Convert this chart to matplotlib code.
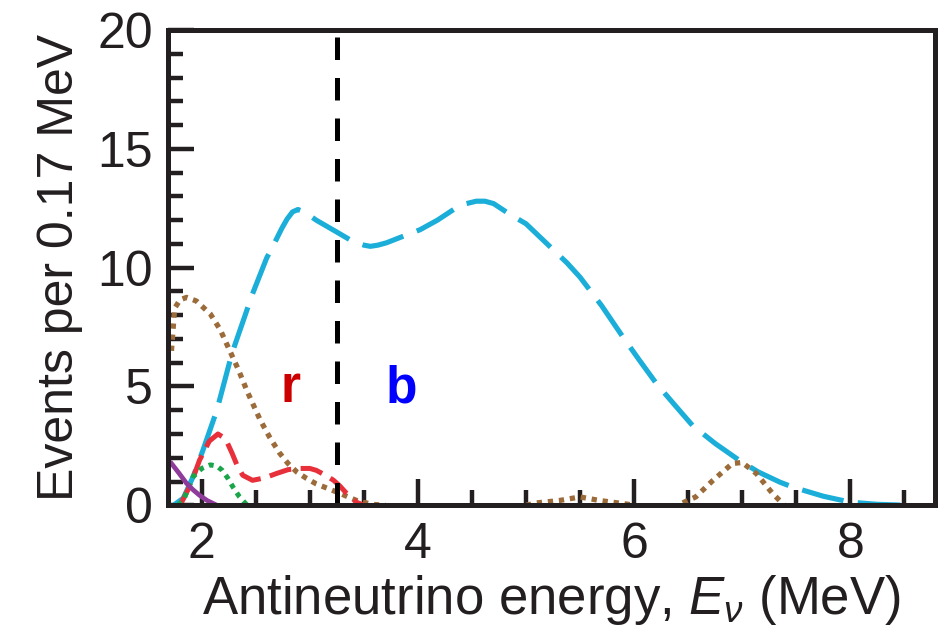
import matplotlib
matplotlib.use("Agg")
import matplotlib.pyplot as plt
from matplotlib.ticker import MultipleLocator

plt.rcParams['font.family'] = ['Liberation Sans', 'DejaVu Sans']
plt.rcParams['mathtext.fontset'] = 'custom'
plt.rcParams['mathtext.it'] = 'Liberation Sans:italic'
plt.rcParams['mathtext.rm'] = 'Liberation Sans'

nan = float('nan')

cyan_x = [1.74, 1.83, 1.92, 2.01, 2.14, 2.28, 2.47, 2.6, 2.68, 2.74, 2.79, 2.84,
          2.89, 2.95, 3.06, 3.25, 3.4, 3.5, 3.56, 3.63, 3.71, 3.85, 4.02, 4.18,
          4.33, 4.45, 4.54, 4.62, 4.7, 4.85, 5.0, 5.15, 5.38, 5.5, 5.7, 5.9,
          6.05, 6.21, 6.38, 6.54, 6.75, 6.97, 7.15, 7.35, 7.47, 7.75, 8.0,
          8.25, 8.52]
cyan_y = [0, 0.3, 1.2, 2.3, 4.0, 6.4, 8.9, 10.4, 11.1, 11.65, 12.05, 12.35,
          12.45, 12.35, 12.0, 11.5, 11.1, 10.95, 10.9, 10.95, 11.05, 11.3, 11.6, 12.0,
          12.45, 12.7, 12.8, 12.8, 12.7, 12.25, 11.85, 11.2, 10.2, 9.6, 8.4, 7.06,
          6.1, 5.1, 4.2, 3.36, 2.6, 1.9, 1.4, 0.97, 0.76, 0.38, 0.13,
          0.04, 0]

# empty bins left out (nan) so no dots sit on the axis there
brown_x = [1.72, 1.75, 1.8, 1.86, 1.95, 2.08, 2.17, 2.26, 2.34, 2.42, 2.54, 2.63,
           2.72, 2.8, 2.88, 2.97, 3.06, 3.17, 3.28, 3.38, 3.46, 3.6, 3.7, 4.3,
           5.0, 5.1, 5.31, 5.5, 5.68, 5.93, 6.0, 6.2,
           6.45, 6.57, 6.73, 6.91, 7.0, 7.13, 7.28, 7.39]
brown_y = [6.5, 8.3, 8.65, 8.75, 8.6, 8.05, 7.4, 6.5, 5.7, 4.8, 3.6, 2.85,
           2.2, 1.75, 1.4, 1.13, 0.9, 0.7, 0.5, 0.3, 0.15, 0.03, 0, nan,
           0, 0.1, 0.2, 0.35, 0.2, 0.05, 0, nan,
           0.1, 0.35, 1.05, 1.76, 1.8, 1.34, 0.5, 0]

red_x = [1.8, 1.9, 1.98, 2.07, 2.15, 2.22, 2.28, 2.33, 2.38, 2.47, 2.58, 2.7,
         2.8, 2.91, 3.0, 3.06, 3.15, 3.22, 3.28, 3.34, 3.43, 3.5]
red_y = [0, 0.9, 1.9, 2.7, 3.0, 2.8, 2.2, 1.65, 1.26, 1.05, 1.15, 1.35,
         1.5, 1.55, 1.55, 1.47, 1.25, 1.05, 0.8, 0.5, 0.13, 0]

green_x = [1.78, 1.83, 1.92, 2.0, 2.08, 2.14, 2.19, 2.24, 2.29, 2.35, 2.42]
green_y = [0, 0.2, 1.2, 1.55, 1.7, 1.65, 1.47, 1.15, 0.76, 0.35, 0]

purple_x = [1.72, 1.79, 1.86, 1.92, 1.98, 2.05, 2.14]
purple_y = [1.76, 1.35, 0.92, 0.65, 0.42, 0.2, 0]

cut_energy = 3.25

fig = plt.figure(figsize=(9.45, 6.42), dpi=100)
ax = fig.add_axes([0.178, 0.213, 0.811, 0.74])

ax.plot(cyan_x, cyan_y, color='#1aaed9', lw=3.7, dashes=(8.3, 2.8))
ax.plot(brown_x, brown_y, color='#9c6b3a', lw=3.8, dashes=(1.0, 1.1))
ax.plot(red_x, red_y, color='#e8303a', lw=3.6, dashes=(4.5, 1.9))
ax.plot(green_x, green_y, color='#1aa54a', lw=3.6, dashes=(1.0, 1.1))
ax.plot(purple_x, purple_y, color='#8e3b9b', lw=3.4)
ax.axvline(cut_energy, color='black', lw=3.6, dashes=(4.5, 3.6))

ax.text(2.82, 4.9, 'r', color='#cc0000', fontsize=37, fontweight='bold',
        ha='center', va='center')
ax.text(3.85, 4.9, 'b', color='#0000ff', fontsize=37, fontweight='bold',
        ha='center', va='center')

ax.set_xlim(1.69, 8.78)
ax.set_ylim(0, 20)
ax.xaxis.set_major_locator(MultipleLocator(2))
ax.xaxis.set_minor_locator(MultipleLocator(0.5))
ax.yaxis.set_major_locator(MultipleLocator(5))
ax.yaxis.set_minor_locator(MultipleLocator(1))
ax.tick_params(which='both', direction='in', width=3.2, color='#231f20',
               labelsize=36, labelcolor='#231f20')
ax.tick_params(which='major', length=19)
ax.tick_params(which='minor', length=11)
ax.tick_params(axis='x', which='major', pad=12)
ax.tick_params(axis='y', which='major', pad=11)
for s in ax.spines.values():
    s.set_linewidth(3.6)
    s.set_color('#231f20')

ax.set_xlabel(r'Antineutrino energy, $E_{\nu}$ (MeV)', fontsize=38,
              color='#231f20', labelpad=4)
ax.set_ylabel('Events per 0.17 MeV', fontsize=36, color='#231f20', labelpad=10)

fig.savefig('out.png', dpi=100)
